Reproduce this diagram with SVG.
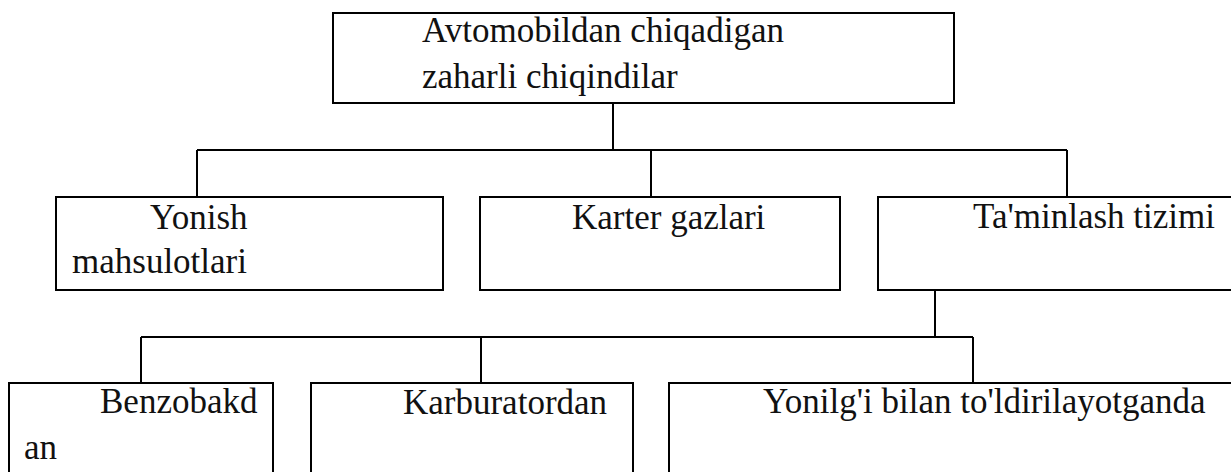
<svg xmlns="http://www.w3.org/2000/svg" width="1231" height="472" viewBox="0 0 1231 472">
<style>
.box{fill:#fff;stroke:#000;stroke-width:2}
.ln{fill:none;stroke:#000;stroke-width:2}
.t{font-family:"Liberation Serif","Times New Roman",serif;font-size:35px;fill:#111}
</style>
<rect x="0" y="0" width="1231" height="472" fill="#fff"/>
<g id="connectors">
<path class="ln" d="M613,104 V150 M197,150 H1067 M197,150 V197 M651,150 V197 M1067,150 V197"/>
<path class="ln" d="M935,290 V337 M141,337 H973 M141,337 V383 M481,337 V383 M973,337 V383"/>
</g>
<g id="root">
<rect class="box" x="333" y="13" width="621" height="90"/>
<text class="t" x="422" y="42">Avtomobildan chiqadigan</text>
<text class="t" x="422" y="88">zaharli chiqindilar</text>
</g>
<g id="yonish">
<rect class="box" x="56" y="197" width="387" height="93"/>
<text class="t" x="150" y="229">Yonish</text>
<text class="t" x="72" y="273">mahsulotlari</text>
</g>
<g id="karter">
<rect class="box" x="480" y="197" width="360" height="93"/>
<text class="t" x="572" y="229">Karter gazlari</text>
</g>
<g id="taminlash">
<rect class="box" x="878" y="197" width="360" height="93"/>
<text class="t" x="973" y="228">Ta'minlash tizimi</text>
</g>
<g id="benzobak">
<rect class="box" x="9" y="383" width="264" height="100"/>
<text class="t" x="100" y="413">Benzobakd</text>
<text class="t" x="24" y="459">an</text>
</g>
<g id="karburator">
<rect class="box" x="311" y="383" width="322" height="100"/>
<text class="t" x="403" y="414">Karburatordan</text>
</g>
<g id="yonilgi">
<rect class="box" x="669" y="383" width="570" height="100"/>
<text class="t" x="763" y="413">Yonilg'i bilan to'ldirilayotganda</text>
</g>
</svg>
